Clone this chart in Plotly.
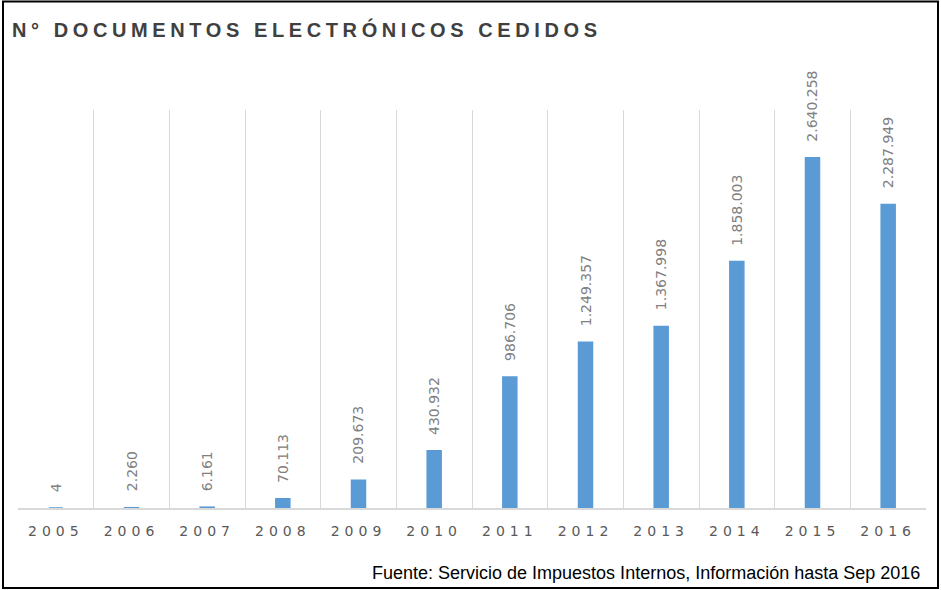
import plotly.graph_objects as go

years = ["2005", "2006", "2007", "2008", "2009", "2010", "2011", "2012", "2013", "2014", "2015", "2016"]
values = [4, 2260, 6161, 70113, 209673, 430932, 986706, 1249357, 1367998, 1858003, 2640258, 2287949]
labels = ["4", "2.260", "6.161", "70.113", "209.673", "430.932", "986.706", "1.249.357",
          "1.367.998", "1.858.003", "2.640.258", "2.287.949"]
title_text = "N° DOCUMENTOS ELECTRÓNICOS CEDIDOS"
source_text = "Fuente: Servicio de Impuestos Internos, Información hasta Sep 2016"

W, H = 941, 590
ML, MR, MT, MB = 18, 15, 110, 82
PW, PH = W - ML - MR, H - MT - MB

def px_x(px):
    return (px - ML) / PW

def px_y(py):
    return (H - MB - py) / PH

fig = go.Figure()
fig.add_trace(go.Bar(x=years, y=values, marker_color="#5b9bd5",
                     marker_line=dict(color="#5b9bd5", width=1.5),
                     hoverinfo="x+y"))

for i, (v, lab) in enumerate(zip(values, labels)):
    fig.add_annotation(x=i, y=v, text=lab, textangle=-90, showarrow=False,
                       xanchor="center", yanchor="bottom", yshift=14,
                       font=dict(family="DejaVu Sans", size=14, color="#808080"))

fig.add_annotation(xref="paper", yref="paper", x=px_x(922), y=px_y(573),
                   xanchor="right", yanchor="middle", showarrow=False, text=source_text,
                   font=dict(family="Liberation Sans", size=18, color="#000000"))

fig.add_shape(type="rect", xref="paper", yref="paper",
              x0=px_x(3), x1=px_x(938), y0=px_y(588), y1=px_y(1.5),
              line=dict(color="#000000", width=2), fillcolor="rgba(0,0,0,0)")

fig.update_layout(
    width=W, height=H,
    margin=dict(l=ML, r=MR, t=MT, b=MB, pad=0),
    paper_bgcolor="white", plot_bgcolor="white",
    bargap=0.815,
    showlegend=False,
    title=dict(text=title_text, xref="container", yref="container",
               x=12 / W, y=1 - 30 / H, xanchor="left", yanchor="middle",
               font=dict(family="Liberation Sans", size=20, color="#404040", weight="bold")),
    xaxis=dict(type="category", range=[-0.5, len(years) - 0.5], tickson="boundaries",
               showgrid=True, gridcolor="#d9d9d9",
               gridwidth=1, showline=True, linecolor="#d9d9d9", linewidth=2,
               ticks="", ticklabelstandoff=9,
               tickfont=dict(family="DejaVu Sans", size=14, color="#595959"),
               zeroline=False),
    yaxis=dict(range=[0, 3000000], visible=False, showgrid=False, zeroline=False),
)

css = "body{margin:0}.xtick text{letter-spacing:5px}.gtitle{letter-spacing:4.6px}"
post = ("var s=document.createElement('style');s.innerHTML='" + css +
        "';document.head.appendChild(s);")
fig.write_html("out.html", post_script=post, config={"displayModeBar": False})
